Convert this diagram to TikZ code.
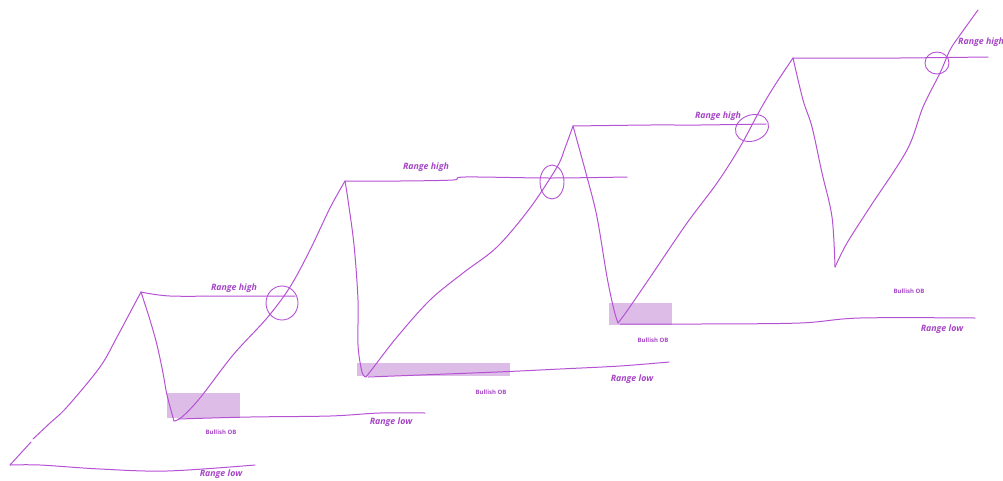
\documentclass[tikz,border=0pt]{standalone}
\usepackage{fontspec}
\setsansfont{Open Sans}
\definecolor{penpurple}{HTML}{B552D4}
\definecolor{obfill}{HTML}{DDBCE7}
\definecolor{inkpurple}{HTML}{A646C6}
\tikzset{
  pen/.style={draw=penpurple, line width=1pt, line cap=round, line join=round},
  sketch/.style={pen, smooth, tension=0.55},
  ring/.style={draw=penpurple, line width=0.9pt},
  obbox/.style={fill=obfill, draw=none},
  rangelbl/.style={text=inkpurple, inner sep=0pt, font=\sffamily\bfseries\itshape\fontsize{8.8}{10}\selectfont},
  oblbl/.style={text=inkpurple, inner sep=0pt, font=\sffamily\bfseries\fontsize{6}{7}\selectfont}
}
\begin{document}
\begin{tikzpicture}[x=1pt, y=-1pt]
    \clip (0,0) rectangle (1003,480);
    \coordinate (S0) at (10,465);
    \coordinate (P1) at (141,292);
    \coordinate (B1) at (174,421);
    \coordinate (P2) at (345,181);
    \coordinate (B2) at (366,377);
    \coordinate (P3) at (573,126);
    \coordinate (B3) at (618,323);
    \coordinate (P4) at (793,58);
    \coordinate (B4) at (835,267);
    \coordinate (E0) at (978,10);
    % order blocks
    \fill[obbox] (167,393) rectangle (240,418);
    \fill[obbox] (357,363) rectangle (510,376);
    \fill[obbox] (609,303) rectangle (672,325);
    % range lines
    \draw[sketch] plot coordinates {(P1) (170,296) (230,296) (295,296)};
    \draw[sketch] plot coordinates {(S0) (40,465) (100,469) (167,471) (255,465)};
    \draw[sketch] plot coordinates {(178,419) (250,417) (330,416) (380,413) (425,413)};
    \draw[sketch] plot coordinates {(P2) (400,181) (453,180) (465,177) (550,178) (627,177)};
    \draw[sketch] plot coordinates {(368,377) (497,372) (560,369) (620,366) (669,362)};
    \draw[sketch] plot coordinates {(P3) (650,125) (700,125) (766,124)};
    \draw[sketch] plot coordinates {(620,324) (700,324) (800,323) (860,318) (975,318)};
    \draw[sketch] plot coordinates {(P4) (860,58) (900,58) (988,57)};
    % price swings
    \draw[pen] (S0) -- (31,442);
    \draw[sketch] plot coordinates {(33,439) (50,423) (67,407) (100,367) (117,337) (133,307) (P1)};
    \draw[sketch] plot coordinates {(P1) (150,320) (157,345) (163,373) (167,395) (B1)};
    \draw[sketch] plot coordinates {(B1) (182,417) (200,398) (233,355) (267,318) (290,287) (310,250) (330,208) (P2)};
    \draw[sketch] plot coordinates {(P2) (348,200) (354,245) (358,300) (358,345) (362,372) (B2)};
    \draw[sketch] plot coordinates {(B2) (373,368) (397,337) (430,300) (463,273) (497,247) (530,208) (557,167) (565,148) (P3)};
    \draw[sketch] plot coordinates {(P3) (587,177) (597,217) (607,277) (614,310) (B3)};
    \draw[sketch] plot coordinates {(B3) (627,311) (653,273) (687,223) (717,183) (740,147) (760,110) (775,85) (P4)};
    \draw[sketch] plot coordinates {(P4) (803,100) (812,127) (822,173) (832,217) (B4)};
    \draw[sketch] plot coordinates {(B4) (847,243) (870,207) (907,150) (923,107) (940,73) (950,50) (960,35) (E0)};
    % breaks
    \draw[ring] (282,303) ellipse [x radius=16pt, y radius=17pt];
    \draw[ring] (552,182) ellipse [x radius=12pt, y radius=17pt];
    \draw[ring, rotate around={20:(752,128)}] (752,128) ellipse [x radius=17pt, y radius=13pt];
    \draw[ring] (937,63) ellipse [x radius=12pt, y radius=11pt];
    % labels
    \node[rangelbl] (rh1) at (234,288) {Range high};
    \node[rangelbl] (rh2) at (426,167) {Range high};
    \node[rangelbl] (rh3) at (718,116) {Range high};
    \node[rangelbl, anchor=west] (rh4) at (958,42) {Range high};
    \node[rangelbl] (rl1) at (221,474) {Range low};
    \node[rangelbl] (rl2) at (391,422) {Range low};
    \node[rangelbl] (rl3) at (632,379) {Range low};
    \node[rangelbl] (rl4) at (942,329) {Range low};
    \node[oblbl] (ob1) at (221,432) {Bullish OB};
    \node[oblbl] (ob2) at (491,392) {Bullish OB};
    \node[oblbl] (ob3) at (653,340) {Bullish OB};
    \node[oblbl] (ob4) at (909,291) {Bullish OB};
\end{tikzpicture}
\end{document}
